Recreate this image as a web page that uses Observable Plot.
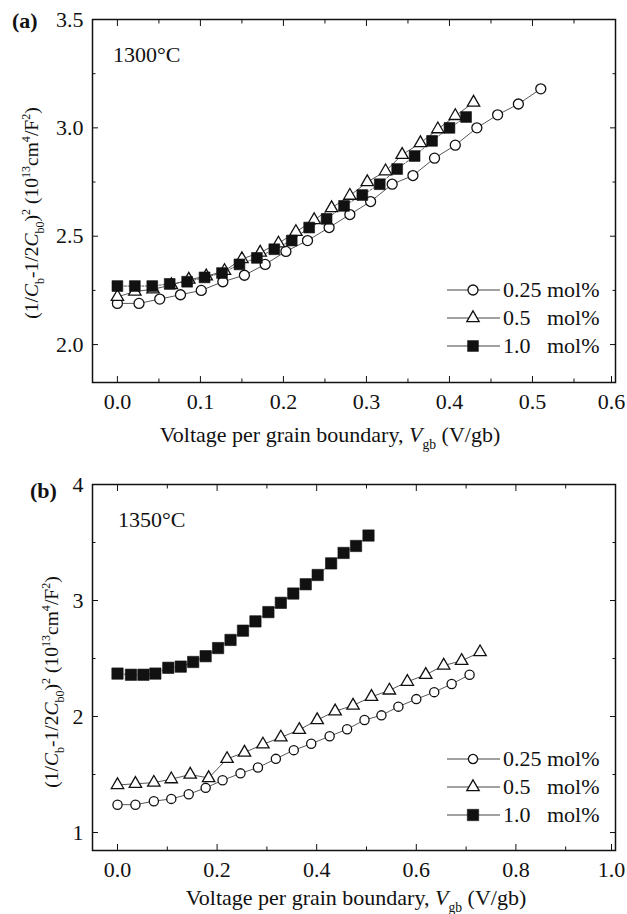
<!DOCTYPE html>
<html><head><meta charset="utf-8">
<script src="https://cdn.jsdelivr.net/npm/d3@7"></script>
<script src="https://cdn.jsdelivr.net/npm/@observablehq/plot@0.6"></script>
<style>
body{margin:0;background:#fff}
#chart svg{display:block}
</style>
</head><body><div id="chart"></div>
<script>
// ---------- Panel (a) 1300°C ----------
const a_x025 = [0, 0.026, 0.051, 0.076, 0.101, 0.127, 0.153, 0.178, 0.203, 0.229, 0.255, 0.280, 0.305, 0.331, 0.356, 0.382, 0.407, 0.433, 0.458, 0.483, 0.510];
const a_y025 = [2.19, 2.19, 2.21, 2.23, 2.25, 2.29, 2.32, 2.37, 2.43, 2.48, 2.54, 2.60, 2.66, 2.74, 2.78, 2.86, 2.92, 3.00, 3.06, 3.11, 3.18];
const a_x05 = [0, 0.021, 0.043, 0.065, 0.086, 0.107, 0.129, 0.150, 0.172, 0.194, 0.215, 0.237, 0.258, 0.280, 0.301, 0.323, 0.343, 0.365, 0.386, 0.407, 0.429];
const a_y05 = [2.22, 2.245, 2.255, 2.275, 2.30, 2.315, 2.34, 2.395, 2.425, 2.467, 2.52, 2.575, 2.63, 2.687, 2.75, 2.80, 2.876, 2.93, 2.994, 3.055, 3.117];
const a_x10 = [0, 0.021, 0.042, 0.063, 0.084, 0.105, 0.126, 0.147, 0.168, 0.189, 0.210, 0.231, 0.252, 0.273, 0.295, 0.316, 0.337, 0.358, 0.379, 0.400, 0.420];
const a_y10 = [2.27, 2.27, 2.27, 2.28, 2.29, 2.31, 2.33, 2.37, 2.40, 2.44, 2.48, 2.54, 2.58, 2.64, 2.69, 2.74, 2.81, 2.87, 2.94, 3.00, 3.05];
const a_xTicks = [0, 0.1, 0.2, 0.3, 0.4, 0.5, 0.6];
const a_xMinor = [0.05, 0.15, 0.25, 0.35, 0.45, 0.55];
const a_yTicks = [2.0, 2.5, 3.0, 3.5];
const a_yMinor = [2.25, 2.75, 3.25];

// ---------- Panel (b) 1350°C ----------
const b_x025 = [0, 0.036, 0.073, 0.108, 0.143, 0.177, 0.211, 0.247, 0.282, 0.318, 0.354, 0.389, 0.426, 0.461, 0.496, 0.530, 0.564, 0.600, 0.636, 0.671, 0.707];
const b_y025 = [1.24, 1.24, 1.27, 1.29, 1.33, 1.385, 1.45, 1.51, 1.56, 1.635, 1.71, 1.765, 1.83, 1.89, 1.97, 2.01, 2.085, 2.15, 2.21, 2.28, 2.36];
const b_x05 = [0, 0.036, 0.073, 0.108, 0.146, 0.183, 0.220, 0.255, 0.292, 0.328, 0.365, 0.401, 0.437, 0.473, 0.510, 0.546, 0.582, 0.619, 0.655, 0.691, 0.728];
const b_y05 = [1.41, 1.42, 1.43, 1.46, 1.50, 1.47, 1.635, 1.69, 1.76, 1.82, 1.885, 1.97, 2.045, 2.095, 2.17, 2.225, 2.30, 2.36, 2.44, 2.48, 2.555];
const b_x10 = [0, 0.027, 0.052, 0.076, 0.102, 0.127, 0.152, 0.177, 0.202, 0.227, 0.252, 0.277, 0.303, 0.328, 0.353, 0.378, 0.402, 0.429, 0.454, 0.479, 0.504];
const b_y10 = [2.37, 2.36, 2.36, 2.37, 2.42, 2.43, 2.47, 2.52, 2.59, 2.66, 2.74, 2.82, 2.90, 2.98, 3.06, 3.14, 3.22, 3.32, 3.41, 3.47, 3.56];
const b_xTicks = [0, 0.2, 0.4, 0.6, 0.8, 1.0];
const b_xMinor = [0.1, 0.3, 0.5, 0.7, 0.9];
const b_yTicks = [1, 2, 3, 4];
const b_yMinor = [1.5, 2.5, 3.5];

const seriesLabels = ["0.25", "0.5", "1.0"];
const FONT = "'Liberation Serif', 'Times New Roman', serif";
const FS = 22;
const INK = "#111";

function rich(sel, parts, base) {
  let cur = 0;
  for (const [t, k] of parts) {
    const small = k.includes("sub") || k.includes("sup");
    const target = k.includes("sub") ? base * 0.3 : k.includes("sup") ? -base * 0.4 : 0;
    const ts = sel.append("tspan").attr("dy", target - cur).text(t);
    cur = target;
    if (small) ts.attr("font-size", base * 0.62);
    if (k.startsWith("i")) ts.attr("font-style", "italic");
  }
}

const yLabelParts = [["(1/", ""], ["C", "i"], ["b", "sub"], ["-1/2", ""], ["C", "i"], ["b0", "sub"], [")", ""], ["2", "sup"],
  [" (10", ""], ["13", "sup"], ["cm", ""], ["4", "sup"], ["/F", ""], ["2", "sup"], [")", ""]];
const xLabelParts = [["Voltage per grain boundary, ", ""], ["V", "i"], ["gb", "sub"], [" (V/gb)", ""]];

function panel(cfg) {
  const {xs, ys, xDomain, yDomain, xTicks, xMinor, yTicks, yMinor, xFmt, yFmt, height, mt, mb, sizes} = cfg;
  const sym = ["circle", "triangle", "square"];
  const marks = [];
  for (let i = 0; i < 3; i++) {
    marks.push(Plot.line(ys[i], {x: xs[i], y: ys[i], stroke: "#444", strokeWidth: 0.9, strokeDasharray: i === 2 ? "2,1.5" : null}));
  }
  for (let i = 0; i < 3; i++) {
    marks.push(Plot.dot(ys[i], {x: xs[i], y: ys[i], symbol: sym[i], r: sizes[i],
      fill: i === 2 ? INK : "white", stroke: INK, strokeWidth: i === 2 ? 0.6 : 1.3}));
  }
  const lastX = xTicks.slice(-1);
  marks.push(
    Plot.axisX(xTicks.slice(0, -1), {anchor: "bottom", tickSize: -6, tickPadding: 17, tickFormat: xFmt, label: null, fontSize: FS}),
    Plot.axisX(lastX, {anchor: "bottom", tickSize: -6, tickPadding: 17, tickFormat: xFmt, label: null, fontSize: FS, dx: -4}),
    Plot.axisX(lastX, {anchor: "bottom", tickSize: -6, tickFormat: () => "", label: null}),
    Plot.axisX(xMinor, {anchor: "bottom", tickSize: -3.5, tickFormat: () => "", label: null}),
    Plot.axisX(xTicks, {anchor: "top", tickSize: -6, tickFormat: () => "", label: null}),
    Plot.axisX(xMinor, {anchor: "top", tickSize: -3.5, tickFormat: () => "", label: null}),
    Plot.axisY(yTicks, {anchor: "left", tickSize: -6, tickPadding: 15, tickFormat: yFmt, label: null, fontSize: FS}),
    Plot.axisY(yMinor, {anchor: "left", tickSize: -3.5, tickFormat: () => "", label: null}),
    Plot.axisY(yTicks, {anchor: "right", tickSize: -6, tickFormat: () => "", label: null}),
    Plot.axisY(yMinor, {anchor: "right", tickSize: -3.5, tickFormat: () => "", label: null}),
    Plot.frame({stroke: INK, strokeWidth: 1.5})
  );
  return Plot.plot({
    width: 627, height, marginLeft: 92, marginRight: 12, marginTop: mt, marginBottom: mb,
    style: {fontFamily: FONT, fontSize: FS + "px", color: INK, background: "white", overflow: "visible"},
    x: {domain: xDomain}, y: {domain: yDomain},
    marks
  });
}

function decorate(svg, cfg) {
  const s = d3.select(svg);
  const g = s.append("g").attr("font-family", FONT).attr("fill", INK).attr("font-size", FS)
    .attr("text-anchor", "start").style("font-family", FONT);
  g.append("text").attr("x", cfg.tagX).attr("y", cfg.tagY).attr("font-weight", "bold").text(cfg.tag);
  g.append("text").attr("x", cfg.tempX).attr("y", cfg.tempY).text(cfg.temp);
  const yl = g.append("text").attr("text-anchor", "middle").attr("font-size", 19.5)
    .attr("transform", `translate(${cfg.ylX},${cfg.ylY}) rotate(-90)`);
  rich(yl, yLabelParts, 19.5);
  const xl = g.append("text").attr("text-anchor", "middle").attr("x", cfg.xlX).attr("y", cfg.xlY);
  rich(xl, xLabelParts, FS);
  // legend
  const sym = [d3.symbolCircle, d3.symbolTriangle, d3.symbolSquare];
  cfg.legRows.forEach((ry, i) => {
    g.append("line").attr("x1", 447).attr("x2", 500).attr("y1", ry).attr("y2", ry)
      .attr("stroke", "#444").attr("stroke-width", 1.2);
    g.append("path").attr("transform", `translate(473,${ry})`)
      .attr("d", d3.symbol(sym[i], Math.PI * cfg.sizes[i] ** 2)())
      .attr("fill", i === 2 ? INK : "white").attr("stroke", INK).attr("stroke-width", i === 2 ? 0.6 : 1.3);
    g.append("text").attr("x", 503).attr("y", ry + 7).text(seriesLabels[i]);
    g.append("text").attr("x", 547).attr("y", ry + 7).text("mol%");
  });
}

const fmt1 = d3.format(".1f");
const sizesA = [5, 4.6, 6.1];
const sizesB = [4.6, 4.6, 6.4];

const svgA = panel({
  xs: [a_x025, a_x05, a_x10], ys: [a_y025, a_y05, a_y10],
  xDomain: [-0.03, 0.6], yDomain: [1.825, 3.5],
  xTicks: a_xTicks, xMinor: a_xMinor, yTicks: a_yTicks, yMinor: a_yMinor,
  xFmt: fmt1, yFmt: fmt1, height: 450, mt: 19, mb: 68, sizes: sizesA
});
decorate(svgA, {tag: "(a)", tagX: 12, tagY: 28, temp: "1300°C", tempX: 113, tempY: 62,
  ylX: 38, ylY: 213, xlX: 330, xlY: 442, legRows: [290, 318, 346], sizes: sizesA});

const svgB = panel({
  xs: [b_x025, b_x05, b_x10], ys: [b_y025, b_y05, b_y10],
  xDomain: [-0.0502, 1.0], yDomain: [0.845, 4],
  xTicks: b_xTicks, xMinor: b_xMinor, yTicks: b_yTicks, yMinor: b_yMinor,
  xFmt: fmt1, yFmt: d3.format("d"), height: 464, mt: 34, mb: 64, sizes: sizesB
});
decorate(svgB, {tag: "(b)", tagX: 30, tagY: 48, temp: "1350°C", tempX: 118, tempY: 77,
  ylX: 58, ylY: 232, xlX: 356, xlY: 455, legRows: [309, 337, 365], sizes: sizesB});

document.getElementById("chart").append(svgA, svgB);
</script>
</body></html>
